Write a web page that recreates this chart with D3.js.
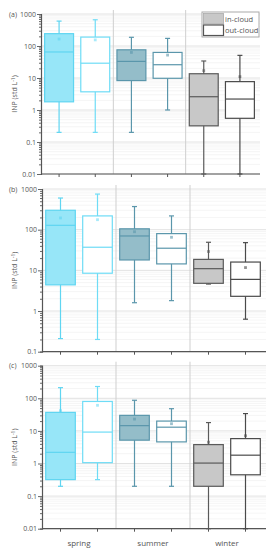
<!DOCTYPE html>
<html>
<head>
<meta charset="utf-8">
<script src="https://cdn.jsdelivr.net/npm/d3@7"></script>
<style>
  body { margin: 0; background: #fff; }
  text { font-family: "Open Sans", "DejaVu Sans", sans-serif; fill: #555; }
</style>
</head>
<body>
<div id="chart"></div>
<script>
// categories
let seasons = ["spring", "summer", "winter"];
let series = ["in-cloud", "out-cloud"];
// rows: [whisker low, q1, median, q3, whisker high, mean], order: spring in/out, summer in/out, winter in/out
let panelA = [
  [0.2, 1.8, 65, 243, 600, 165],
  [0.2, 3.7, 29, 190, 660, 155],
  [0.2, 8.3, 33, 76, 187, 63],
  [1.0, 9.8, 26, 63, 173, 52],
  [0.01, 0.32, 2.6, 13.6, 34, 17],
  [0.01, 0.55, 2.2, 7.7, 51, 11]
];
let panelB = [
  [0.21, 4.4, 128, 300, 600, 194],
  [0.2, 8.5, 37, 218, 750, 176],
  [1.6, 18, 70, 105, 370, 89],
  [1.8, 14.4, 35, 80, 218, 65],
  [4.6, 4.8, 11, 18.6, 49, 29],
  [0.63, 2.3, 6, 16, 48, 11.7]
];
let panelC = [
  [0.2, 0.32, 2.2, 37, 212, 42],
  [0.32, 1.06, 9.2, 80, 230, 61],
  [0.2, 5.2, 14.5, 30, 87, 23],
  [0.2, 4.6, 13, 20, 48, 16.6],
  [0.01, 0.2, 1.03, 3.8, 18, 4.5],
  [0.01, 0.45, 1.8, 5.8, 34, 7.1]
];
let ticksA = ["0.01", "0.1", "1", "10", "100", "1000"];
let ticksB = ["0.1", "1", "10", "100", "1000"];
let ticksC = ["0.01", "0.1", "1", "10", "100", "1000"];

let fills = ["#97e6f8", "#ffffff", "#94bdc9", "#ffffff", "#c8c8c8", "#ffffff"];
let strokes = ["#5fd5f1", "#6edcf6", "#5a96ab", "#5a96ab", "#5a5a5a", "#4a4a4a"];

let svg = d3.select("#chart").append("svg")
  .attr("width", 272)
  .attr("height", 550);

let panels = [
  {data: panelA, ticks: ticksA, label: "(a)", x0: 41, x1: 258, top: 14, bottom: 174},
  {data: panelB, ticks: ticksB, label: "(b)", x0: 42, x1: 264, top: 189, bottom: 351.7},
  {data: panelC, ticks: ticksC, label: "(c)", x0: 42, x1: 264, top: 365.7, bottom: 528.7}
];

panels.forEach((p, pi) => {
  let g = svg.append("g");
  let lo = +p.ticks[0], hi = +p.ticks[p.ticks.length - 1];
  let y = d3.scaleLog().domain([lo, hi]).range([p.bottom, p.top]);
  let xg = d3.scaleBand().domain(seasons).range([p.x0, p.x1]);
  let xs = d3.scaleBand().domain(series).range([0, xg.bandwidth()]).paddingInner(0.2).paddingOuter(0.1);

  // minor grid
  let minor = [];
  for (let e = Math.log10(lo); e < Math.log10(hi); e++) {
    for (let m = 2; m <= 9; m++) minor.push(m * Math.pow(10, e));
  }
  g.selectAll(".minor").data(minor).enter().append("line")
    .attr("x1", p.x0).attr("x2", p.x1 + 2)
    .attr("y1", d => y(d)).attr("y2", d => y(d))
    .attr("stroke", "#f3f3f3").attr("stroke-width", 0.8);
  g.selectAll(".major").data(p.ticks).enter().append("line")
    .attr("x1", p.x0).attr("x2", p.x1 + 2)
    .attr("y1", d => y(+d)).attr("y2", d => y(+d))
    .attr("stroke", "#e2e2e2").attr("stroke-width", 1);

  // season separators
  g.selectAll(".sep").data(seasons.slice(1)).enter().append("line")
    .attr("x1", d => xg(d)).attr("x2", d => xg(d))
    .attr("y1", p.top - 4).attr("y2", p.bottom)
    .attr("stroke", "#cfcfcf").attr("stroke-width", 1);

  // y axis
  let yAxis = d3.axisLeft(y)
    .tickValues(minor.concat(p.ticks.map(Number)))
    .tickSize(2)
    .tickFormat(d => p.ticks.indexOf(String(d)) >= 0 ? String(d) : "");
  let ya = g.append("g").attr("transform", `translate(${p.x0},0)`).call(yAxis);
  ya.select(".domain").attr("stroke", "#555").attr("stroke-width", 1.2);
  ya.selectAll(".tick line").attr("stroke", "#666");
  ya.selectAll(".tick").filter(d => p.ticks.indexOf(String(d)) >= 0)
    .select("line").attr("x2", -4);
  ya.selectAll(".tick text").attr("x", -5).style("font-size", "7px").attr("fill", "#555")
    .style("font-family", "'Open Sans', sans-serif");

  g.append("text").attr("x", 9).attr("y", p.top + 2.5)
    .style("font-size", "7px").text(p.label);

  // y label
  let yl = g.append("text")
    .attr("transform", `translate(17,${(p.top + p.bottom) / 2}) rotate(-90)`)
    .attr("text-anchor", "middle")
    .style("font-size", "7px");
  yl.append("tspan").text("INP (std L");
  yl.append("tspan").attr("dy", -2.5).style("font-size", "5px").text("-1");
  yl.append("tspan").attr("dy", 2.5).text(")");

  // x axis
  g.append("line").attr("x1", p.x0).attr("x2", p.x1 + 2)
    .attr("y1", p.bottom).attr("y2", p.bottom)
    .attr("stroke", "#555").attr("stroke-width", 1.2);

  let boxes = [];
  seasons.forEach((s, si) => series.forEach((c, ci) => {
    let i = si * 2 + ci;
    boxes.push({cx: xg(s) + xs(c) + xs.bandwidth() / 2, w: xs.bandwidth(), v: p.data[i], fill: fills[i], stroke: strokes[i]});
  }));

  g.selectAll(".xt").data(boxes).enter().append("line")
    .attr("x1", d => d.cx).attr("x2", d => d.cx)
    .attr("y1", p.bottom).attr("y2", p.bottom + 3)
    .attr("stroke", "#555");

  let bg = g.selectAll(".box").data(boxes).enter().append("g");
  // whiskers
  bg.append("line")
    .attr("x1", d => d.cx).attr("x2", d => d.cx)
    .attr("y1", d => y(d.v[0])).attr("y2", d => y(d.v[4]))
    .attr("stroke", d => d.stroke).attr("stroke-width", 1.2);
  bg.selectAll(".cap").data(d => [[d, 0], [d, 4]]).enter().append("line")
    .attr("x1", d => d[0].cx - 2.5).attr("x2", d => d[0].cx + 2.5)
    .attr("y1", d => y(d[0].v[d[1]])).attr("y2", d => y(d[0].v[d[1]]))
    .attr("stroke", d => d[0].stroke).attr("stroke-width", 1.2);
  // box
  bg.append("rect")
    .attr("x", d => d.cx - d.w / 2).attr("width", d => d.w)
    .attr("y", d => y(d.v[3])).attr("height", d => y(d.v[1]) - y(d.v[3]))
    .attr("fill", d => d.fill).attr("stroke", d => d.stroke).attr("stroke-width", 1.2);
  // median
  bg.append("line")
    .attr("x1", d => d.cx - d.w / 2).attr("x2", d => d.cx + d.w / 2)
    .attr("y1", d => y(d.v[2])).attr("y2", d => y(d.v[2]))
    .attr("stroke", d => d.stroke).attr("stroke-width", 1.2);
  // mean
  bg.append("rect")
    .attr("x", d => d.cx - 1.4).attr("y", d => y(d.v[5]) - 1.4)
    .attr("width", 2.8).attr("height", 2.8)
    .attr("fill", d => d.stroke).attr("opacity", 0.6);

  if (pi === 2) {
    g.selectAll(".sl").data(seasons).enter().append("text")
      .attr("x", d => xg(d) + xg.bandwidth() / 2).attr("y", p.bottom + 17)
      .attr("text-anchor", "middle").style("font-size", "8px").text(d => d);
  }

  if (pi === 0) {
    let lg = g.append("g");
    lg.append("rect").attr("x", 202).attr("y", 12).attr("width", 57).attr("height", 25)
      .attr("fill", "#fff").attr("stroke", "#aaa").attr("stroke-width", 1);
    series.forEach((c, ci) => {
      lg.append("rect").attr("x", 203.5).attr("y", 13.5 + ci * 11.5).attr("width", 20).attr("height", 10.5)
        .attr("fill", fills[4 + ci]).attr("stroke", ci ? "#555" : "#aaa").attr("stroke-width", ci ? 1.2 : 0.8);
      lg.append("text").attr("x", 225).attr("y", 21.5 + ci * 11.5)
        .style("font-size", "7.5px").text(c);
    });
  }
});
</script>
</body>
</html>
